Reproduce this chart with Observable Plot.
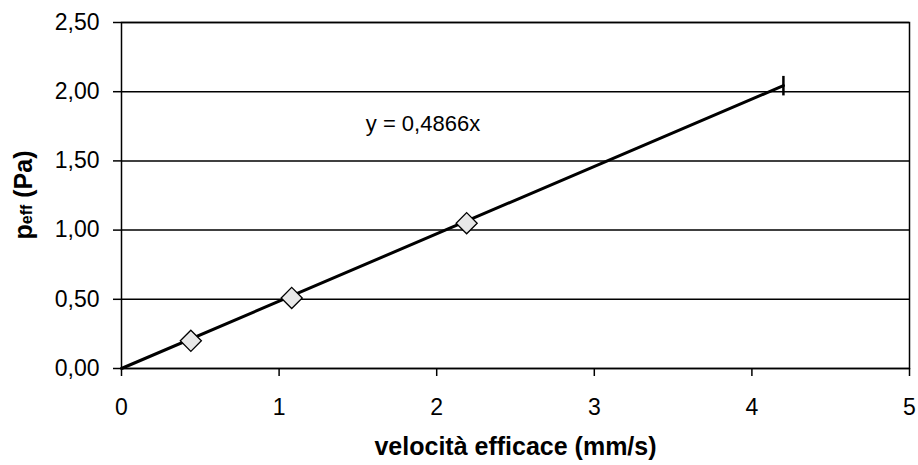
<!DOCTYPE html>
<html>
<head>
<meta charset="utf-8">
<script src="https://cdn.jsdelivr.net/npm/d3@7"></script>
<script src="https://cdn.jsdelivr.net/npm/@observablehq/plot@0.6"></script>
<style>
  html, body { margin: 0; padding: 0; background: #fff; }
  #chart { width: 918px; height: 465px; }
  svg { font-family: "Liberation Sans", Arial, sans-serif; }
</style>
</head>
<body>
<div id="chart"></div>
<script>
// Measured points (velocità efficace mm/s, p_eff Pa)
const velocity = [0.44, 1.08, 2.19];
const pressure = [0.20, 0.51, 1.05];
// Trend line y = 0.4866x, drawn from x = 0 to x = 4.2
const slope = 0.4866;
const trendX = [0, 4.2];
const trendLabel = "y = 0,4866x";
const trendLabelPos = [1.55, 1.77];
const xTicks = [0, 1, 2, 3, 4, 5];
const yTicks = [0, 0.5, 1, 1.5, 2, 2.5];
const xTitle = "velocità efficace (mm/s)";

const points = velocity.map((v, i) => ({x: v, y: pressure[i]}));
const trend = trendX.map(x => ({x, y: slope * x}));
const endMark = [trend[trend.length - 1]];

const vbar = {
  draw(context, size) {
    const h = Math.sqrt(size);
    context.moveTo(0, -h / 2);
    context.lineTo(0, h / 2);
  }
};

const fmt = d => d.toFixed(2).replace(".", ",");

const plot = Plot.plot({
  width: 918,
  height: 465,
  marginLeft: 121,
  marginRight: 9,
  marginTop: 22,
  marginBottom: 97,
  style: {fontFamily: "'Liberation Sans', Arial, sans-serif", background: "#fff", color: "#000"},
  x: {domain: [0, 5]},
  y: {domain: [0, 2.5]},
  marks: [
    Plot.gridY(yTicks, {stroke: "#000", strokeOpacity: 1, strokeWidth: 1.5}),
    Plot.frame({stroke: "#000", strokeWidth: 1.5}),
    Plot.axisY(yTicks, {tickFormat: fmt, tickSize: 8, tickPadding: 14, fontSize: 23, label: null, strokeWidth: 1.5}),
    Plot.axisX(xTicks, {tickFormat: d => String(d), tickSize: 8, tickPadding: 22, fontSize: 23, label: null, strokeWidth: 1.5}),
    Plot.line(trend, {x: "x", y: "y", stroke: "#000", strokeWidth: 3}),
    Plot.dot(points, {x: "x", y: "y", symbol: "diamond2", r: 9.5, fill: "#e8e8e8", stroke: "#000", strokeWidth: 1.3}),
    Plot.dot(endMark, {x: "x", y: "y", symbol: vbar, r: 11, stroke: "#000", strokeWidth: 2.5, fill: "none"}),
    Plot.text([trendLabel], {x: () => trendLabelPos[0], y: () => trendLabelPos[1], text: d => d, textAnchor: "start", fontSize: 22, fill: "#000"}),
    Plot.text([xTitle], {frameAnchor: "bottom", text: d => d, dy: 86, fontSize: 25, fontWeight: "bold", fill: "#000"})
  ]
});

document.getElementById("chart").appendChild(plot);

// Y-axis title with subscript "eff"
const yr = plot.scale("y").range;
const cy = (yr[0] + yr[1]) / 2;
const t = d3.select(plot).append("text")
  .attr("transform", `translate(32,${cy}) rotate(-90)`)
  .attr("text-anchor", "middle")
  .attr("font-size", 25)
  .attr("font-weight", "bold")
  .attr("fill", "#000");
t.append("tspan").text("p");
t.append("tspan").attr("font-size", 16).text("eff");
t.append("tspan").text(" (Pa)");
</script>
</body>
</html>
